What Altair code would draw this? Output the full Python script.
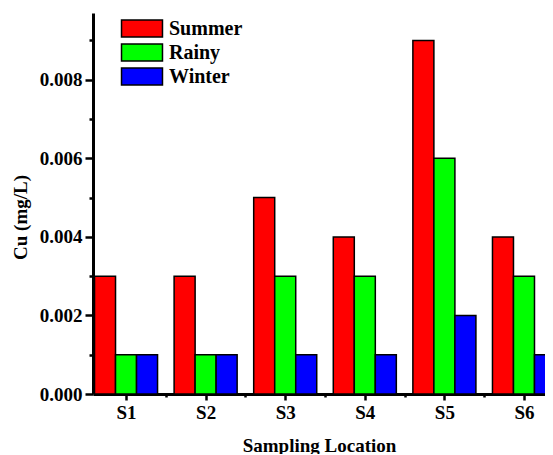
import altair as alt
import pandas as pd

# ---- data ----
locations = ["S1", "S2", "S3", "S4", "S5", "S6"]
seasons = ["Summer", "Rainy", "Winter"]
summer = [0.003, 0.003, 0.005, 0.004, 0.009, 0.004]
rainy = [0.001, 0.001, 0.003, 0.003, 0.006, 0.003]
winter = [0.001, 0.001, 0.001, 0.001, 0.002, 0.001]
colors = ["#FF0000", "#00FF00", "#0000FF"]
y_ticks = [0.000, 0.001, 0.002, 0.003, 0.004, 0.005, 0.006, 0.007, 0.008, 0.009]
x_ticks = [1, 1.5, 2, 2.5, 3, 3.5, 4, 4.5, 5, 5.5, 6]

rows = []
for si, (season, vals) in enumerate(zip(seasons, [summer, rainy, winter])):
    for li, (loc, v) in enumerate(zip(locations, vals)):
        rows.append({"loc": loc, "li": li + 1, "season": season, "si": si, "cu": v})
df = pd.DataFrame(rows)

BW = 0.264  # bar width in category units
FONT = "Liberation Serif, Times New Roman, serif"
FS = 19

x_axis = alt.Axis(
    values=x_ticks,
    labelExpr="datum.value % 1 == 0 ? 'S' + datum.value : ''",
    title="Sampling Location",
    titleFont=FONT, titleFontSize=19, titleFontWeight="bold", titleColor="black",
    titleBaseline="alphabetic", titleY=57,
    labelFont=FONT, labelFontSize=FS, labelFontWeight="bold", labelColor="black",
    labelPadding=3, labelFlush=False,
    domainColor="black", domainWidth=3,
    tickColor="black", tickWidth=2.5,
    tickSize={"condition": {"test": "datum.value % 1 == 0", "value": 6}, "value": 3},
    grid=False,
)

y_axis = alt.Axis(
    values=y_ticks,
    labelExpr="round(datum.value*1000) % 2 == 0 ? format(datum.value, '.3f') : ''",
    title="Cu (mg/L)",
    titleFont=FONT, titleFontSize=19, titleFontWeight="bold", titleColor="black",
    titleBaseline="alphabetic", titleX=-67, titleY=204,
    labelFont=FONT, labelFontSize=FS, labelFontWeight="bold", labelColor="black",
    labelPadding=3,
    domainColor="black", domainWidth=3,
    tickColor="black", tickWidth=2.5,
    tickSize={"condition": {"test": "round(datum.value*1000) % 2 == 0", "value": 8}, "value": 4},
    grid=False,
)

legend = alt.Legend(
    title=None,
    orient="none", legendX=39, legendY=5.5,
    symbolType="M-2.41,-1H2.41V1H-2.41Z",
    symbolSize=289,
    symbolStrokeColor="#000", symbolStrokeWidth=1.5,
    labelFont=FONT, labelFontSize=20, labelFontWeight="bold", labelColor="black",
    labelOffset=17, rowPadding=0, padding=0,
)

chart = (
    alt.Chart(df)
    .transform_calculate(
        x0=f"datum.li + (datum.si - 1) * {BW} - {BW / 2}",
        x1=f"datum.li + (datum.si - 1) * {BW} + {BW / 2}",
    )
    .mark_rect(stroke="#000", strokeWidth=1.5, clip=True)
    .encode(
        x=alt.X("x0:Q", scale=alt.Scale(domain=[0.585, 6.264], nice=False, zero=False), axis=x_axis),
        x2="x1:Q",
        y=alt.Y("cu:Q", scale=alt.Scale(domain=[0, 0.0097], nice=False), axis=y_axis),
        y2=alt.datum(0),
        fill=alt.Fill("season:N", scale=alt.Scale(domain=seasons, range=colors), legend=legend),
    )
    .properties(
        width=452, height=381,
        autosize=alt.AutoSizeParams(type="none"),
        padding={"left": 85, "top": 5, "right": 0, "bottom": 60},
    )
    .configure_view(stroke=None)
)

chart.save("out.html", embed_options={"renderer": "svg", "actions": False})
